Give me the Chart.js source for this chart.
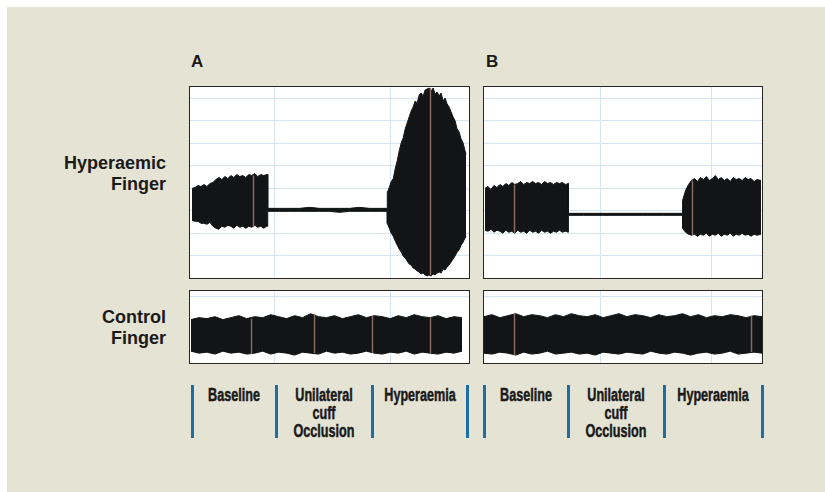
<!DOCTYPE html>
<html>
<head>
<meta charset="utf-8">
<script src="https://cdn.jsdelivr.net/npm/chart.js@4"></script>
<style>
  body { margin: 0; background: #fff; width: 825px; height: 492px; overflow: hidden; }
  #bg { position: absolute; left: 7px; top: 7px; width: 818px; height: 485px; background: #e5e3d3; }
  .panel { position: absolute; box-sizing: border-box; border: 1px solid #262626; background: #fff; }
  .panel canvas { display: block; }
  .lbl { position: absolute; font-family: "Liberation Sans", Arial, sans-serif; font-weight: bold; color: #1a1a1a; }
  .side { font-size: 18px; line-height: 21px; text-align: right; width: 160px; left: 6px; }
  .letter { font-size: 17px; }
  .phase { position: absolute; font-family: "Liberation Sans", Arial, sans-serif; font-weight: bold;
           font-size: 18px; line-height: 18px; text-align: center; width: 120px; color: #1a1a1a;
           transform: scaleX(0.7); -webkit-text-stroke: 0.5px #1a1a1a; }
  .sep { position: absolute; width: 3px; height: 53px; top: 385px; background: #1d6ea6; }
</style>
</head>
<body>
<div id="bg"></div>

<div class="lbl letter" style="left:191px; top:52px;">A</div>
<div class="lbl letter" style="left:486px; top:52px;">B</div>
<div class="lbl side" style="top:153px;">Hyperaemic<br>Finger</div>
<div class="lbl side" style="top:307px;">Control<br>Finger</div>

<div class="panel" style="left:189px; top:86px; width:281px; height:193px;"><canvas id="topA" width="279" height="191"></canvas></div>
<div class="panel" style="left:483px; top:86px; width:280px; height:193px;"><canvas id="topB" width="278" height="191"></canvas></div>
<div class="panel" style="left:189px; top:290px; width:281px; height:74px;"><canvas id="ctlA" width="279" height="72"></canvas></div>
<div class="panel" style="left:483px; top:290px; width:280px; height:74px;"><canvas id="ctlB" width="278" height="72"></canvas></div>

<div id="phases"></div>

<script>
// phases under each recording
const phaseNames = ['Baseline', 'Unilateral<br>cuff<br>Occlusion', 'Hyperaemia'];
const phaseEdgesA = [192, 276, 372, 467];
const phaseEdgesB = [484, 568, 664, 762];

// hyperaemic finger, panel A (time, upper / lower envelope)
const timeA = [2, 5, 8, 11, 14, 17, 20, 23, 26, 29, 32, 35, 38, 41, 44, 47, 50, 53, 56, 59, 62, 65, 68, 71, 74, 77, 78,
  78, 90, 100, 110, 120, 130, 140, 150, 160, 170, 180, 190, 198,
  198, 200, 202, 204, 206, 208, 210, 212, 214, 216, 218, 220, 222, 224, 226, 228, 230, 232, 234, 236, 238, 240,
  242, 244, 246, 248, 250, 252, 254, 256, 258, 260, 262, 264, 266, 268, 270, 272, 274, 276, 277];
const upperA = [90, 91, 93, 92, 94, 92, 95, 96, 99, 101, 99, 102, 100, 103, 101, 104, 102, 103, 101, 104, 103, 105, 102, 104, 103, 104, 104,
  70, 70, 70, 70, 71, 70, 70, 70, 70, 71, 70, 70, 70,
  86, 91, 97, 100, 110, 118, 128, 136, 141, 150, 156, 162, 168, 172, 178, 176, 184, 186, 183, 189, 190, 191,
  188, 191, 185, 187, 183, 186, 178, 181, 175, 172, 167, 162, 158, 150, 147, 140, 136, 128, 124];
const lowerA = [58, 57, 57, 55, 55, 54, 56, 52, 50, 49, 52, 51, 53, 52, 50, 53, 51, 52, 50, 52, 51, 53, 51, 52, 50, 52, 52,
  67, 67, 67, 67, 67, 67, 67, 66, 67, 67, 67, 67, 67,
  55, 50, 45, 42, 37, 33, 29, 26, 22, 20, 17, 14, 13, 10, 9, 7, 6, 4, 5, 3, 2, 3,
  2, 4, 3, 5, 6, 5, 9, 8, 11, 13, 16, 19, 22, 26, 28, 33, 36, 40, 42];

// hyperaemic finger, panel B
const timeB = [1, 4, 7, 10, 13, 16, 19, 22, 25, 28, 31, 34, 37, 40, 43, 46, 49, 52, 55, 58, 61, 64, 67, 70, 73, 76, 79, 82, 85,
  85, 100, 120, 140, 160, 180, 200,
  200, 203, 206, 209, 212, 215, 218, 221, 224, 227, 230, 233, 236, 239, 242, 245, 248, 251, 254, 257, 260, 263, 266, 269, 272, 275, 279];
const upperB = [90, 92, 89, 93, 91, 94, 92, 95, 93, 96, 94, 95, 97, 94, 96, 95, 97, 95, 96, 94, 97, 95, 96, 94, 96, 95, 96, 94, 95,
  65, 65, 65, 65, 65, 65, 65,
  78, 88, 94, 98, 100, 97, 101, 99, 102, 98, 100, 103, 99, 101, 98, 100, 97, 101, 99, 100, 98, 101, 99, 100, 97, 99, 98];
const lowerB = [48, 47, 49, 46, 48, 47, 45, 48, 46, 47, 45, 48, 46, 47, 45, 48, 46, 47, 45, 48, 46, 47, 45, 47, 46, 48, 46, 47, 46,
  63, 63, 63, 63, 63, 63, 63,
  50, 46, 44, 43, 44, 42, 44, 43, 45, 42, 44, 43, 45, 42, 44, 43, 45, 42, 44, 43, 45, 43, 44, 42, 44, 43, 44];

// control finger, panels A and B
const timeCA = [1, 9, 17, 25, 33, 41, 49, 57, 65, 73, 81, 89, 97, 105, 113, 121, 129, 137, 145, 153, 161, 169, 177, 185, 193, 201, 209, 217, 225, 233, 241, 249, 257, 265, 273];
const upperCA = [44, 46, 45, 47, 44, 46, 48, 45, 47, 46, 49, 47, 45, 48, 46, 50, 47, 46, 48, 45, 47, 49, 46, 48, 47, 45, 48, 46, 49, 47, 46, 48, 45, 47, 46];
const lowerCA = [12, 10, 11, 9, 12, 10, 11, 9, 10, 12, 9, 11, 10, 8, 11, 10, 9, 12, 10, 11, 9, 10, 12, 10, 9, 11, 10, 12, 9, 11, 10, 9, 11, 10, 12];
const timeCB = [0, 8, 16, 24, 32, 40, 48, 56, 64, 72, 80, 88, 96, 104, 112, 120, 128, 136, 144, 152, 160, 168, 176, 184, 192, 200, 208, 216, 224, 232, 240, 248, 256, 264, 272, 280];
const upperCB = [47, 49, 46, 48, 50, 47, 49, 48, 46, 49, 47, 50, 48, 47, 49, 46, 48, 50, 47, 49, 48, 46, 49, 47, 48, 50, 47, 49, 46, 48, 47, 49, 48, 46, 48, 47];
const lowerCB = [10, 9, 11, 10, 8, 11, 9, 10, 12, 9, 10, 11, 9, 10, 8, 11, 10, 9, 11, 10, 9, 12, 10, 9, 11, 10, 8, 10, 11, 9, 10, 12, 9, 10, 11, 10];

// event marks on the traces
const marksA = [63, 241];
const marksB = [30, 209];
const marksCA = [61, 124, 183, 241];
const marksCB = [30, 269];

// chart paper grid
const gridColsA = [85, 201];
const gridColsB = [117, 229];
const gridRowsTop = [23, 45, 68, 90, 113, 135, 158, 180];
const gridRowsCtl = [67];

const ink = '#121416';
const paper = '#d5e5f1';

function marker(times, hi, lo, marks) {
  return {
    id: 'marks',
    afterDatasetsDraw(chart) {
      const ctx = chart.ctx, xs = chart.scales.x, ys = chart.scales.y;
      ctx.save();
      ctx.strokeStyle = 'rgba(150,115,105,0.9)';
      ctx.lineWidth = 1.5;
      marks.forEach(m => {
        let k = 0;
        times.forEach((t, i) => { if (Math.abs(t - m) < Math.abs(times[k] - m)) k = i; });
        const px = Math.round(xs.getPixelForValue(m)) + 0.5;
        ctx.beginPath();
        ctx.moveTo(px, ys.getPixelForValue(hi[k]));
        ctx.lineTo(px, ys.getPixelForValue(lo[k]));
        ctx.stroke();
      });
      ctx.restore();
    }
  };
}

function trace(id, times, hi, lo, marks, cols, rows, ymax) {
  return new Chart(document.getElementById(id), {
    type: 'line',
    data: {
      datasets: [
        { data: times.map((t, i) => ({ x: t, y: hi[i] })), fill: '+1', backgroundColor: ink, borderColor: ink, borderWidth: 1, pointRadius: 0, tension: 0 },
        { data: times.map((t, i) => ({ x: t, y: lo[i] })), fill: false, borderColor: ink, borderWidth: 1, pointRadius: 0, tension: 0 }
      ]
    },
    options: {
      responsive: false,
      animation: false,
      layout: { padding: 0 },
      plugins: { legend: { display: false }, tooltip: { enabled: false } },
      scales: {
        x: {
          type: 'linear', min: 0, max: 280,
          ticks: { display: false },
          grid: { color: paper, drawTicks: false },
          border: { display: false },
          afterBuildTicks: s => { s.ticks = cols.map(v => ({ value: v })); }
        },
        y: {
          min: 0, max: ymax,
          ticks: { display: false },
          grid: { color: paper, drawTicks: false },
          border: { display: false },
          afterBuildTicks: s => { s.ticks = rows.map(v => ({ value: v })); }
        }
      }
    },
    plugins: [marker(times, hi, lo, marks)]
  });
}

trace('topA', timeA, upperA, lowerA, marksA, gridColsA, gridRowsTop, 192);
trace('topB', timeB, upperB, lowerB, marksB, gridColsB, gridRowsTop, 192);
trace('ctlA', timeCA, upperCA, lowerCA, marksCA, gridColsA, gridRowsCtl, 73);
trace('ctlB', timeCB, upperCB, lowerCB, marksCB, gridColsB, gridRowsCtl, 73);

// phase bars below the traces
const box = document.getElementById('phases');
[phaseEdgesA, phaseEdgesB].forEach(edges => {
  edges.forEach(x => {
    const d = document.createElement('div');
    d.className = 'sep';
    d.style.left = (x - 1) + 'px';
    box.appendChild(d);
  });
  phaseNames.forEach((name, i) => {
    const d = document.createElement('div');
    d.className = 'phase';
    d.innerHTML = name;
    d.style.left = ((edges[i] + edges[i + 1]) / 2 - 60) + 'px';
    d.style.top = '386px';
    box.appendChild(d);
  });
});
</script>
</body>
</html>
